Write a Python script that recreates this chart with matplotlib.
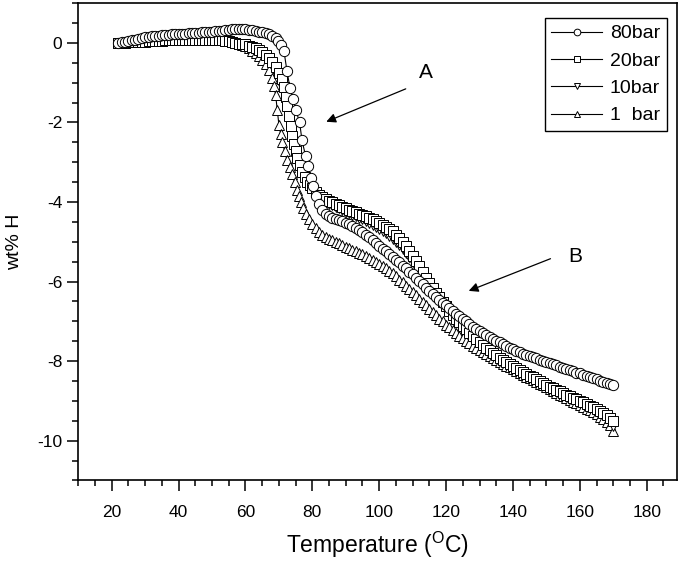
import matplotlib.pyplot as plt
from matplotlib.ticker import MultipleLocator

plt.rcParams['font.family'] = ['Liberation Sans', 'DejaVu Sans']
plt.rcParams['axes.unicode_minus'] = False

# =========================
# DATA
# =========================

# early, nearly flat part shared by the temperature grid of every run
t_early = [22, 23, 24, 25, 26, 27, 28, 29, 30, 31, 32, 33, 34, 35, 36, 37, 38, 39, 40,
           41, 42, 43, 44, 45, 46, 47, 48, 49, 50, 51, 52, 53, 54, 55, 56, 57, 58]
# late part (after the steep drop), same grid for every run
t_late = [84, 85, 86, 87, 88, 89, 90, 91, 92, 93, 94, 95, 96, 97, 98, 99, 100, 101, 102,
          103, 104, 105, 106, 107, 108, 109, 110, 111, 112, 113, 114, 115, 116, 117, 118,
          119, 120, 121, 122, 123, 124, 125, 126, 127, 128, 129, 130, 131, 132, 133, 134,
          135, 136, 137, 138, 139, 140, 141, 142, 143, 144, 145, 146, 147, 148, 149, 150,
          151, 152, 153, 154, 155, 156, 157, 158, 159, 160, 161, 162, 163, 164, 165, 166,
          167, 168, 169, 170]

# 80 bar
t_80_mid = [59, 60, 61, 62, 63, 64, 65, 66, 67, 68, 69, 69.7, 70.6, 71.5, 72.4, 73.3, 74.2,
            75.1, 76.2, 76.9, 78, 78.8, 79.5, 80.3, 81, 82, 82.8]
w_80_early = [0.0, 0.02, 0.03, 0.05, 0.06, 0.08, 0.1, 0.12, 0.14, 0.15, 0.16, 0.17, 0.18,
              0.19, 0.2, 0.205, 0.21, 0.215, 0.22, 0.225, 0.23, 0.235, 0.24, 0.245, 0.25,
              0.26, 0.27, 0.275, 0.28, 0.29, 0.3, 0.31, 0.32, 0.33, 0.34, 0.345, 0.35]
w_80_mid = [0.345, 0.34, 0.33, 0.32, 0.3, 0.28, 0.26, 0.24, 0.21, 0.17, 0.11, 0.05, -0.05,
            -0.2, -0.7, -1.13, -1.4, -1.7, -2.0, -2.45, -2.85, -3.1, -3.4, -3.6, -3.85,
            -4.05, -4.2]
w_80_late = [-4.3, -4.35, -4.4, -4.43, -4.46, -4.49, -4.52, -4.56, -4.6, -4.65, -4.7, -4.76,
             -4.82, -4.89, -4.96, -5.03, -5.1, -5.17, -5.24, -5.31, -5.38, -5.45, -5.52,
             -5.6, -5.67, -5.75, -5.82, -5.9, -5.98, -6.07, -6.15, -6.23, -6.31, -6.39,
             -6.46, -6.53, -6.6, -6.67, -6.74, -6.81, -6.87, -6.94, -7.0, -7.07, -7.13,
             -7.19, -7.24, -7.29, -7.34, -7.39, -7.44, -7.49, -7.53, -7.58, -7.62, -7.66,
             -7.7, -7.74, -7.77, -7.81, -7.84, -7.87, -7.9, -7.93, -7.96, -7.99, -8.02,
             -8.05, -8.08, -8.11, -8.14, -8.17, -8.2, -8.23, -8.26, -8.29, -8.31, -8.34,
             -8.37, -8.4, -8.43, -8.46, -8.49, -8.52, -8.55, -8.58, -8.6]

# early values of the 20, 10 and 1 bar runs (they overlap there)
w_low_early = [0.0, 0.0, 0.0, 0.01, 0.01, 0.02, 0.02, 0.03, 0.03, 0.04, 0.04, 0.05, 0.05,
               0.05, 0.06, 0.06, 0.06, 0.07, 0.07, 0.07, 0.08, 0.08, 0.08, 0.08, 0.08, 0.08,
               0.08, 0.08, 0.08, 0.07, 0.07, 0.06, 0.05, 0.04, 0.02, 0.0, -0.02]

# 20 bar
t_20_mid = [59, 60, 61, 62, 63, 64, 65, 66, 67, 68, 69, 70, 70.8, 71.5, 72, 72.5, 73, 73.5,
            74, 74.5, 75, 75.5, 76.3, 77, 77.8, 78.5, 79.3, 80, 81, 82, 83]
w_20_mid = [-0.03, -0.04, -0.07, -0.1, -0.14, -0.18, -0.24, -0.3, -0.38, -0.48, -0.6,
            -0.75, -0.92, -1.1, -1.35, -1.6, -1.85, -2.1, -2.33, -2.55, -2.73, -2.9, -3.08,
            -3.25, -3.38, -3.5, -3.58, -3.66, -3.75, -3.82, -3.88]
w_20_late = [-3.93, -3.97, -4.01, -4.05, -4.08, -4.12, -4.15, -4.19, -4.22, -4.26, -4.29,
             -4.33, -4.36, -4.4, -4.44, -4.48, -4.52, -4.57, -4.62, -4.68, -4.74, -4.82,
             -4.9, -5.0, -5.1, -5.22, -5.35, -5.48, -5.62, -5.76, -5.9, -6.03, -6.16,
             -6.28, -6.4, -6.51, -6.62, -6.73, -6.83, -6.93, -7.02, -7.11, -7.2, -7.29,
             -7.37, -7.45, -7.52, -7.59, -7.66, -7.73, -7.79, -7.85, -7.91, -7.97, -8.02,
             -8.07, -8.12, -8.17, -8.22, -8.27, -8.32, -8.37, -8.41, -8.46, -8.5, -8.55,
             -8.59, -8.64, -8.68, -8.72, -8.76, -8.8, -8.84, -8.88, -8.92, -8.96, -9.0,
             -9.04, -9.08, -9.12, -9.16, -9.2, -9.25, -9.3, -9.35, -9.42, -9.5]

# 10 bar
t_10_mid = [59, 60, 61, 62, 63, 64, 65, 66, 67, 68, 69, 69.8, 70.6, 71.3, 72, 72.5, 73,
            73.5, 74, 74.5, 75, 75.7, 76.5, 77.2, 78, 79, 80, 81, 82, 83]
w_10_mid = [-0.04, -0.06, -0.09, -0.13, -0.17, -0.22, -0.28, -0.35, -0.44, -0.55, -0.7,
            -0.8, -0.93, -1.15, -1.43, -1.7, -2.0, -2.22, -2.44, -2.65, -2.86, -3.03, -3.2,
            -3.35, -3.48, -3.6, -3.7, -3.8, -3.88, -3.94]
w_10_late = [-4.0, -4.04, -4.08, -4.12, -4.16, -4.2, -4.24, -4.28, -4.32, -4.36, -4.4,
             -4.44, -4.48, -4.52, -4.57, -4.62, -4.67, -4.72, -4.78, -4.85, -4.92, -5.0,
             -5.08, -5.18, -5.28, -5.39, -5.5, -5.61, -5.73, -5.84, -5.96, -6.07, -6.18,
             -6.29, -6.4, -6.51, -6.62, -6.73, -6.84, -6.94, -7.04, -7.13, -7.22, -7.31,
             -7.4, -7.48, -7.56, -7.63, -7.7, -7.77, -7.83, -7.89, -7.95, -8.0, -8.06,
             -8.11, -8.16, -8.21, -8.26, -8.31, -8.36, -8.4, -8.45, -8.49, -8.54, -8.58,
             -8.63, -8.67, -8.72, -8.76, -8.8, -8.84, -8.88, -8.92, -8.96, -9.0, -9.04,
             -9.08, -9.12, -9.16, -9.2, -9.25, -9.3, -9.36, -9.42, -9.5, -9.62]

# 1 bar
t_1_mid = [59, 60, 61, 62, 63, 64, 65, 66, 67, 68, 68.5, 69, 69.5, 70, 70.5, 71, 71.7,
           72.4, 73.2, 74, 74.7, 75.4, 76, 76.5, 77.2, 78, 79, 80, 81, 82, 83]
w_1_mid = [-0.05, -0.09, -0.14, -0.2, -0.26, -0.33, -0.42, -0.52, -0.68, -0.88, -1.08,
           -1.3, -1.68, -2.06, -2.28, -2.48, -2.72, -2.94, -3.12, -3.3, -3.5, -3.7, -3.86,
           -4.0, -4.15, -4.3, -4.43, -4.55, -4.66, -4.75, -4.82]
w_1_late = [-4.87, -4.92, -4.96, -5.0, -5.04, -5.08, -5.12, -5.16, -5.2, -5.24, -5.28,
            -5.32, -5.37, -5.41, -5.46, -5.51, -5.56, -5.61, -5.67, -5.73, -5.79, -5.87,
            -5.95, -6.02, -6.1, -6.18, -6.26, -6.34, -6.43, -6.51, -6.6, -6.68, -6.77,
            -6.85, -6.93, -7.0, -7.08, -7.15, -7.22, -7.29, -7.36, -7.42, -7.49, -7.55,
            -7.61, -7.66, -7.72, -7.77, -7.83, -7.88, -7.93, -7.98, -8.03, -8.07, -8.12,
            -8.16, -8.21, -8.25, -8.3, -8.34, -8.39, -8.43, -8.48, -8.52, -8.57, -8.61,
            -8.66, -8.7, -8.75, -8.79, -8.84, -8.88, -8.93, -8.97, -9.02, -9.06, -9.11,
            -9.15, -9.2, -9.24, -9.29, -9.34, -9.4, -9.45, -9.52, -9.6, -9.75]

labels = ["80bar", "20bar", "10bar", "1  bar"]

# =========================
# FIGURE
# =========================
fig = plt.figure(figsize=(6.85, 5.65), dpi=100)
ax = fig.add_axes([0.1143, 0.1496, 0.8737, 0.845])

style = dict(color='black', lw=0.8, mfc='white', mec='black', mew=0.7, ms=7.4)
h1, = ax.plot(t_early + t_1_mid + t_late, w_low_early + w_1_mid + w_1_late,
              marker='^', label=labels[3], **style)
h10, = ax.plot(t_early + t_10_mid + t_late, w_low_early + w_10_mid + w_10_late,
               marker='v', label=labels[2], **style)
h20, = ax.plot(t_early + t_20_mid + t_late, w_low_early + w_20_mid + w_20_late,
               marker='s', label=labels[1], **style)
h80, = ax.plot(t_early + t_80_mid + t_late, w_80_early + w_80_mid + w_80_late,
               marker='o', label=labels[0], **style)

ax.set_xlim(10, 189)
ax.set_ylim(-11, 1)
ax.xaxis.set_major_locator(MultipleLocator(20))
ax.xaxis.set_minor_locator(MultipleLocator(5))
ax.yaxis.set_major_locator(MultipleLocator(2))
ax.yaxis.set_minor_locator(MultipleLocator(0.5))
ax.tick_params(which='both', direction='out', width=1.1, labelsize=12.5,
               top=False, right=False)
ax.tick_params(which='major', length=8)
ax.tick_params(which='minor', length=4)
ax.tick_params(axis='x', pad=10)
for s in ax.spines.values():
    s.set_linewidth(1.2)

ax.set_xlabel(r"Temperature ($\mathregular{^O}$C)", fontsize=16.5, labelpad=7)
ax.set_ylabel("wt% H", fontsize=14, labelpad=10)

leg = ax.legend(handles=[h80, h20, h10, h1], loc='upper right',
                bbox_to_anchor=(0.9833, 0.9686), borderaxespad=0, fontsize=14,
                frameon=True, fancybox=False, edgecolor='black', framealpha=1,
                handlelength=2.6, markerscale=0.65, handletextpad=0.4,
                labelspacing=0.5, borderpad=0.35)
leg.get_frame().set_linewidth(1.0)

# annotations A and B
ax.annotate("", xy=(83.4, -2.01), xytext=(108.7, -1.13),
            arrowprops=dict(arrowstyle='-|>', color='black', lw=0.9, mutation_scale=14))
ax.text(114, -0.75, "A", fontsize=15, ha='center', va='center')
ax.annotate("", xy=(126, -6.26), xytext=(152, -5.4),
            arrowprops=dict(arrowstyle='-|>', color='black', lw=0.9, mutation_scale=14))
ax.text(158.5, -5.38, "B", fontsize=15, ha='center', va='center')

fig.savefig("out.png", dpi=100)
